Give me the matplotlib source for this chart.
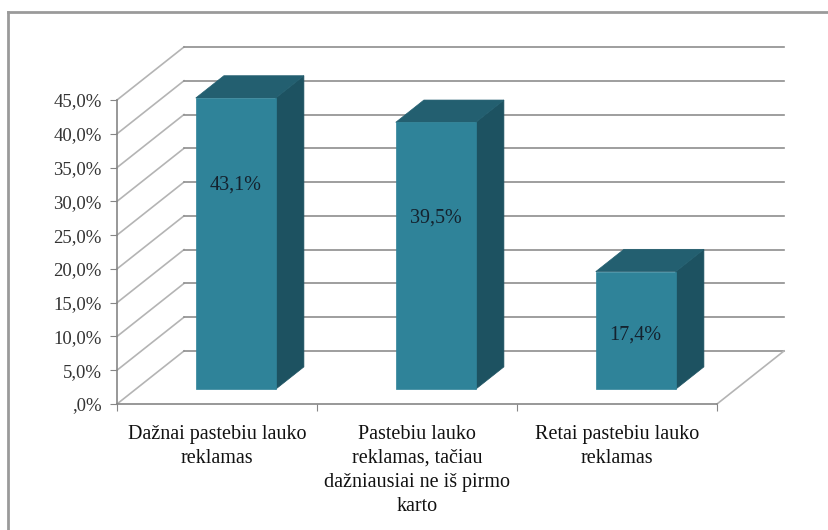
import matplotlib
matplotlib.use("Agg")
import matplotlib.pyplot as plt
from matplotlib.patches import Polygon
from matplotlib.lines import Line2D
from matplotlib.ticker import FuncFormatter

plt.rcParams["font.family"] = ["Liberation Serif", "DejaVu Serif"]

categories = [
    "Dažnai pastebiu lauko\nreklamas",
    "Pastebiu lauko\nreklamas, tačiau\ndažniausiai ne iš pirmo\nkarto",
    "Retai pastebiu lauko\nreklamas",
]
shares = [43.1, 39.5, 17.4]
value_labels = ["43,1%", "39,5%", "17,4%"]
y_ticks = [0, 5, 10, 15, 20, 25, 30, 35, 40, 45]

# fake 3d: depth vector in data units, bar sits between t1 and t2 of the depth
DX, DY = 0.335, 7.85
T1, T2 = 0.28, 0.70
HALF_W = 0.2
label_height = [0.70, 0.64, 0.46]   # where the value text sits on each bar

FRONT = "#2f8399"
TOP = "#235f70"
SIDE = "#1d5261"
GRID = "#8e8e8e"
DIAG = "#b4b4b4"


def pct(v, pos=None):
    s = f"{v:.1f}".replace(".", ",")
    if s.startswith("0"):
        s = s[1:]
    return s + "%"


fig = plt.figure(figsize=(8.29, 5.30), dpi=100)
ax = fig.add_axes([117 / 829, 126 / 530, 600 / 829, 304 / 530])
ax.set_xlim(0, 3)
ax.set_ylim(0, 45)
ncat = len(categories)

# back wall gridlines + side wall diagonals
for v in y_ticks:
    ax.plot([0, DX], [v, v + DY], color=DIAG, lw=1.2, clip_on=False, zorder=1)
    ax.plot([DX, ncat + DX], [v + DY, v + DY], color=GRID, lw=1.2,
            clip_on=False, zorder=1)
# floor right edge
ax.plot([ncat, ncat + DX], [0, DY], color=DIAG, lw=1.2, clip_on=False, zorder=1)

for i, v in enumerate(shares):
    x0 = i + 0.5 - HALF_W
    x1 = i + 0.5 + HALF_W
    ax1, ay1 = T1 * DX, T1 * DY
    ax2, ay2 = T2 * DX, T2 * DY
    front = [(x0 + ax1, ay1), (x1 + ax1, ay1), (x1 + ax1, v + ay1), (x0 + ax1, v + ay1)]
    top = [(x0 + ax1, v + ay1), (x1 + ax1, v + ay1), (x1 + ax2, v + ay2), (x0 + ax2, v + ay2)]
    side = [(x1 + ax1, ay1), (x1 + ax2, ay2), (x1 + ax2, v + ay2), (x1 + ax1, v + ay1)]
    for pts, col in [(side, SIDE), (top, TOP), (front, FRONT)]:
        ax.add_patch(Polygon(pts, closed=True, facecolor=col, edgecolor=col,
                             lw=0.5, clip_on=False, zorder=3))
    ax.text(i + 0.5 + ax1, v * label_height[i] + ay1, value_labels[i],
            ha="center", va="center", fontsize=14.5, color="#14222e", zorder=4)

for side_name in ["top", "right"]:
    ax.spines[side_name].set_visible(False)
for side_name in ["left", "bottom"]:
    ax.spines[side_name].set_color("#868686")
    ax.spines[side_name].set_linewidth(1.2)

ax.set_yticks(y_ticks)
ax.yaxis.set_major_formatter(FuncFormatter(pct))
ax.tick_params(axis="y", direction="out", length=5, color="#868686",
               labelsize=13.5, labelcolor="#333333", pad=6)

ax.set_xticks(range(ncat + 1))
ax.set_xticklabels([])
ax.set_xticks([i + 0.5 for i in range(ncat)], minor=True)
ax.set_xticklabels(categories, minor=True, fontsize=14.5, linespacing=1.35,
                   color="#111111")
ax.tick_params(axis="x", which="major", direction="out", length=5,
               color="#868686")
ax.tick_params(axis="x", which="minor", length=0, pad=15)
ax.patch.set_alpha(0)

# chart border
fig.add_artist(Line2D([8 / 829, 8 / 829], [0, 1 - 12 / 530],
                      color="#9a9a9a", lw=2))
fig.add_artist(Line2D([8 / 829, 1], [1 - 12 / 530, 1 - 12 / 530],
                      color="#9a9a9a", lw=2))

fig.savefig("out.png", dpi=100, facecolor="white")
